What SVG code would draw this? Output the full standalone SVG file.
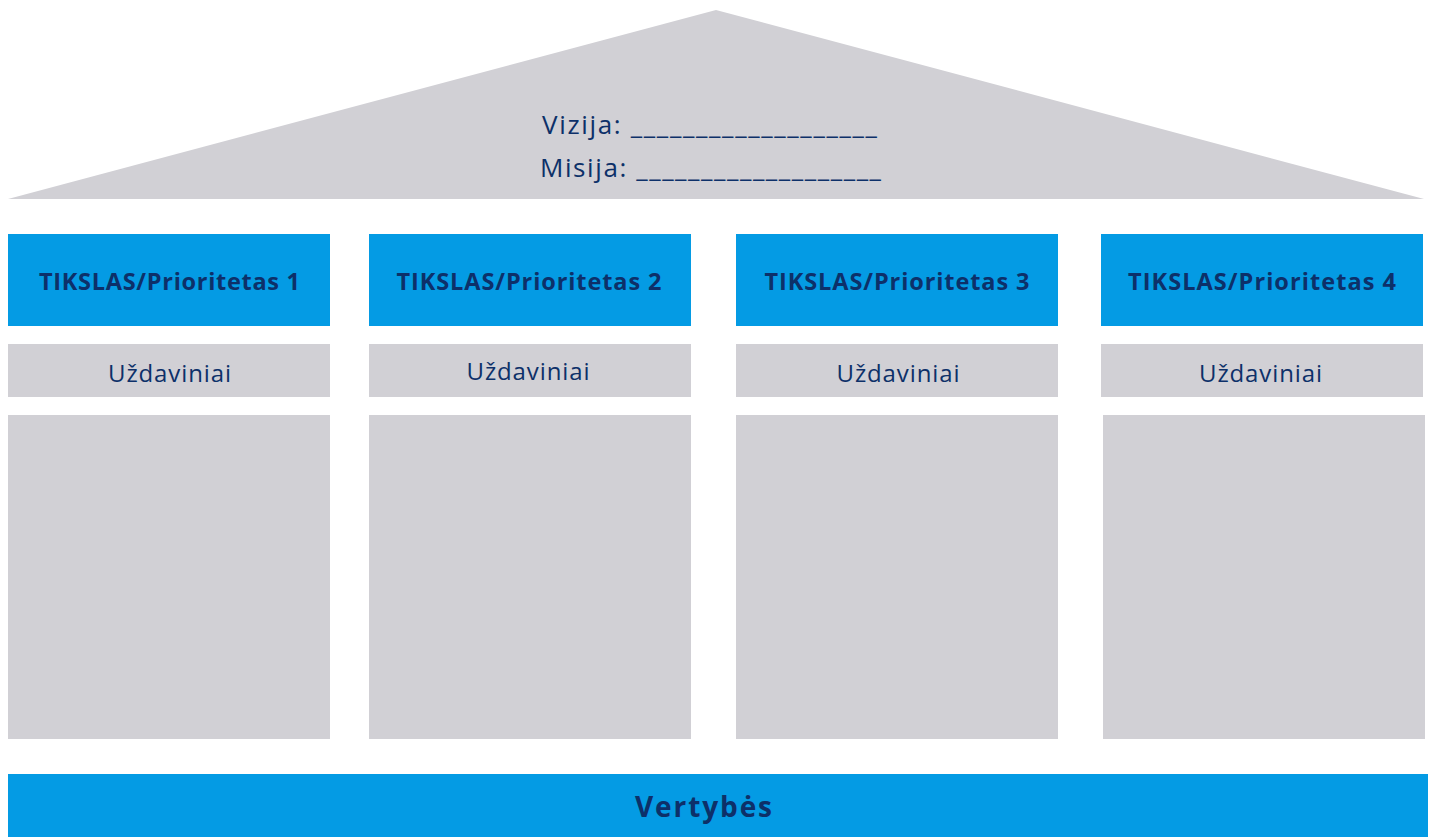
<svg xmlns="http://www.w3.org/2000/svg" width="1432" height="837" viewBox="0 0 1432 837">
<style>
.g{fill:#D1D0D5}
.b{fill:#049BE4}
.t{font-family:"Open Sans","Liberation Sans",sans-serif;fill:#0D3069;text-anchor:middle}
.h{font-size:23.5px;font-weight:700}
.u{font-size:24px}
.r{font-size:26px}
</style>
<rect width="1432" height="837" fill="#fff"/>
<g id="roof">
<polygon class="g" points="8,199 716,10 1424,199"/>
<text class="t r" x="709.5" y="134" textLength="335" lengthAdjust="spacing">Vizija: ___________________</text>
<text class="t r" x="710.5" y="177" textLength="341" lengthAdjust="spacing">Misija: ___________________</text>
</g>
<g id="col1">
<rect class="b" x="8" y="234" width="322" height="92"/>
<text class="t h" x="169.5" y="290" textLength="261" lengthAdjust="spacing">TIKSLAS/Prioritetas 1</text>
<rect class="g" x="8" y="344" width="322" height="53"/>
<text class="t u" x="169.5" y="382" textLength="123" lengthAdjust="spacing">Uždaviniai</text>
<rect class="g" x="8" y="415" width="322" height="324"/>
</g>
<g id="col2">
<rect class="b" x="369" y="234" width="322" height="92"/>
<text class="t h" x="529" y="290" textLength="265" lengthAdjust="spacing">TIKSLAS/Prioritetas 2</text>
<rect class="g" x="369" y="344" width="322" height="53"/>
<text class="t u" x="528" y="380" textLength="123" lengthAdjust="spacing">Uždaviniai</text>
<rect class="g" x="369" y="415" width="322" height="324"/>
</g>
<g id="col3">
<rect class="b" x="736" y="234" width="322" height="92"/>
<text class="t h" x="897" y="290" textLength="265" lengthAdjust="spacing">TIKSLAS/Prioritetas 3</text>
<rect class="g" x="736" y="344" width="322" height="53"/>
<text class="t u" x="898" y="382" textLength="123" lengthAdjust="spacing">Uždaviniai</text>
<rect class="g" x="736" y="415" width="322" height="324"/>
</g>
<g id="col4">
<rect class="b" x="1101" y="234" width="322" height="92"/>
<text class="t h" x="1262" y="290" textLength="268" lengthAdjust="spacing">TIKSLAS/Prioritetas 4</text>
<rect class="g" x="1101" y="344" width="322" height="53"/>
<text class="t u" x="1260.5" y="382" textLength="123" lengthAdjust="spacing">Uždaviniai</text>
<rect class="g" x="1103" y="415" width="322" height="324"/>
</g>
<g id="base">
<rect class="b" x="8" y="774" width="1420" height="63"/>
<text class="t" x="703.5" y="817" textLength="137" lengthAdjust="spacing" style="font-size:28px;font-weight:700">Vertybės</text>
</g>
<g id="connectors"></g>
</svg>
